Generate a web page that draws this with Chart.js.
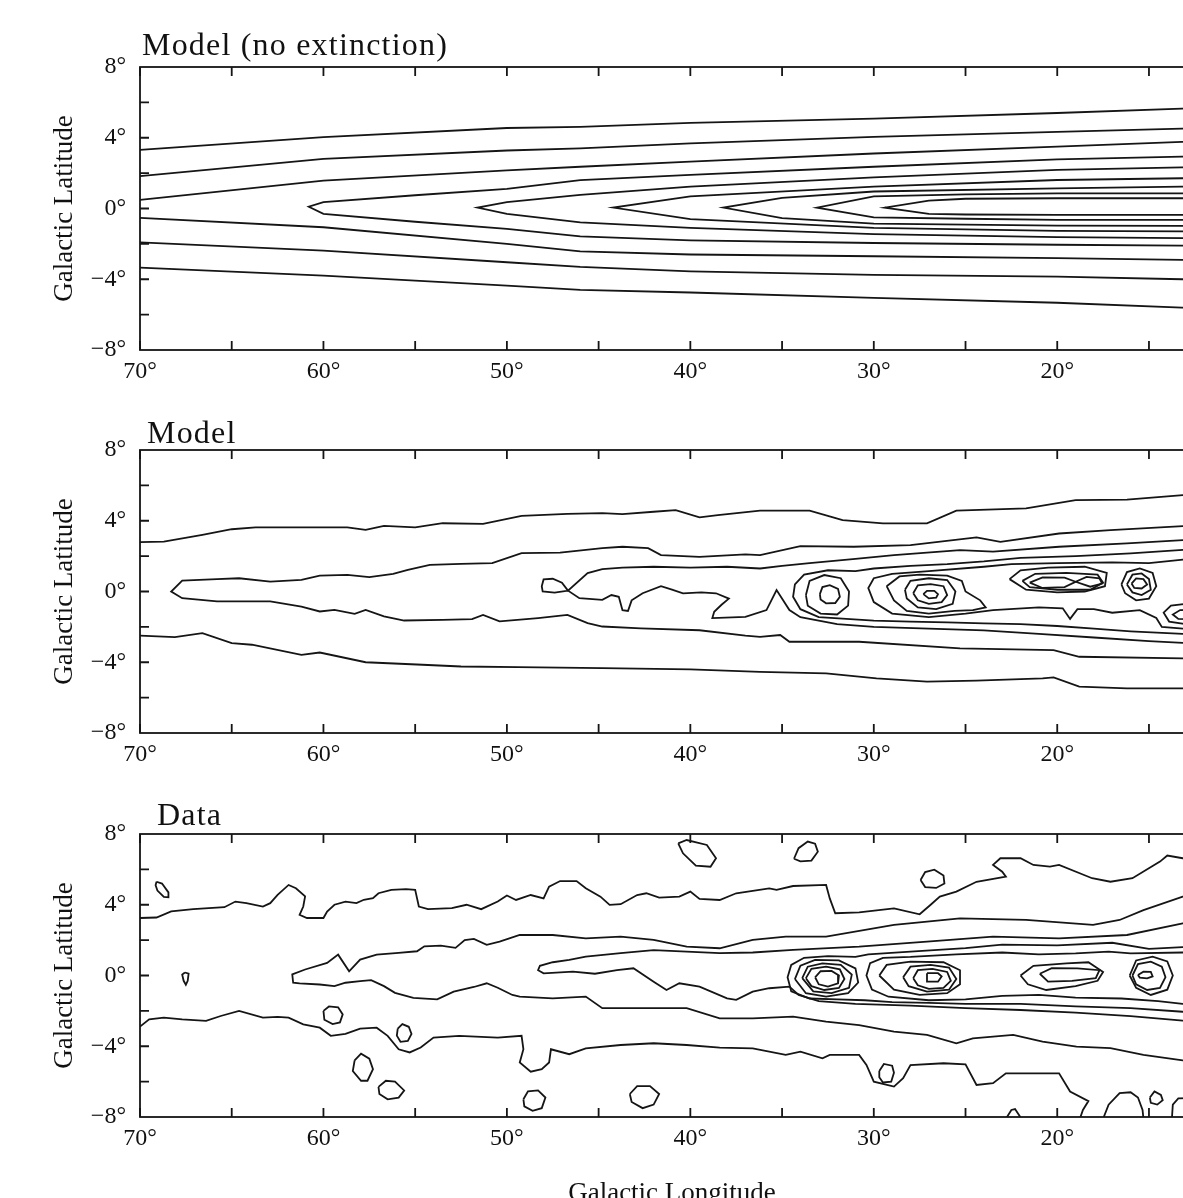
<!DOCTYPE html>
<html>
<head>
<meta charset="utf-8">
<script src="https://cdn.jsdelivr.net/npm/chart.js@4.4.1/dist/chart.umd.min.js"></script>
<style>
  html, body { margin: 0; padding: 0; background: #fff; overflow: hidden; width: 1183px; height: 1198px; }
  canvas { position: absolute; left: 0; }
</style>
</head>
<body>
<canvas id="panel1" width="1225" height="388" style="top:7px"></canvas>
<canvas id="panel2" width="1225" height="388" style="top:390px"></canvas>
<canvas id="panel3" width="1225" height="443" style="top:774px"></canvas>
<script>
// axis values
var lonTicks = [70, 60, 50, 40, 30, 20];
var latTicks = [-8, -4, 0, 4, 8];
var lonTickMarks = [70, 65, 60, 55, 50, 45, 40, 35, 30, 25, 20, 15];
var latTickMarks = [-6, -4, -2, 0, 2, 4, 6];
var panelTitles = ['Model (no extinction)', 'Model', 'Data'];

// ---- panel 1: model, no extinction  [longitude, latitude] ----
var m1c1Up = [[70,3.32],[60,4.04],[50,4.55],[46,4.62],[40,4.84],[30,5.08],[20,5.4],[13.2,5.65],[11,5.75]];
var m1c1Lo = [[70,-3.34],[60,-3.79],[50,-4.36],[46,-4.6],[40,-4.75],[30,-5.05],[20,-5.33],[13.2,-5.6],[11,-5.7]];
var m1c2Up = [[70,1.83],[60,2.81],[50,3.28],[46,3.4],[40,3.68],[30,4.05],[20,4.33],[13.2,4.52],[11,4.6]];
var m1c2Lo = [[70,-1.91],[60,-2.38],[50,-3.04],[46,-3.3],[40,-3.55],[30,-3.75],[20,-3.85],[13.2,-4.0],[11,-4.05]];
var m1c3Up = [[70,0.49],[60,1.58],[50,2.15],[46,2.36],[40,2.65],[30,3.11],[20,3.5],[13.2,3.77],[11,3.85]];
var m1c3Lo = [[70,-0.53],[60,-1.06],[50,-2.0],[46,-2.42],[40,-2.6],[30,-2.7],[20,-2.8],[13.2,-2.9],[11,-2.95]];
var m1c4Up = [[60.8,0.1],[60,0.36],[55,0.75],[50,1.11],[46,1.61],[40,1.9],[30,2.36],[20,2.78],[13.2,2.93],[11,3.0]];
var m1c4Lo = [[60.8,0.1],[60,-0.3],[55,-0.75],[50,-1.15],[46,-1.58],[40,-1.8],[30,-1.95],[20,-2.05],[13.2,-2.1],[11,-2.12]];
var m1c5Up = [[51.6,0.05],[50,0.36],[46,0.77],[40,1.24],[30,1.76],[20,2.18],[13.2,2.33],[11,2.38]];
var m1c5Lo = [[51.6,0.05],[50,-0.3],[46,-0.79],[40,-1.1],[30,-1.45],[20,-1.62],[13.2,-1.67],[11,-1.7]];
var m1c6Up = [[44.2,0.05],[40,0.68],[30,1.24],[20,1.61],[13.2,1.71],[11,1.74]];
var m1c6Lo = [[44.2,0.05],[40,-0.6],[30,-1.1],[20,-1.27],[13.2,-1.29],[11,-1.3]];
var m1c7Up = [[38.2,0.05],[35,0.6],[30,0.96],[20,1.14],[13.2,1.24],[11,1.26]];
var m1c7Lo = [[38.2,0.05],[35,-0.55],[30,-0.85],[20,-0.97],[13.2,-0.98],[11,-0.99]];
var m1c8Up = [[33.1,0.05],[30,0.68],[25,0.8],[20,0.86],[13.2,0.86],[11,0.86]];
var m1c8Lo = [[33.1,0.05],[30,-0.5],[25,-0.58],[20,-0.64],[13.2,-0.64],[11,-0.64]];
var m1c9Up = [[29.4,0.05],[27,0.45],[25,0.55],[20,0.58],[13.2,0.58],[11,0.58]];
var m1c9Lo = [[29.4,0.05],[27,-0.3],[25,-0.34],[20,-0.36],[13.2,-0.36],[11,-0.36]];

// ---- panel 2: model ----
var m2Top = [[70,2.79],[68.7,2.82],[66.6,3.2],[65,3.52],[63.7,3.63],[58.7,3.63],[57.7,3.48],[56.7,3.71],[55,3.63],[53.5,3.86],[51.3,3.82],[49.2,4.27],[46.7,4.39],[44.8,4.43],[43.7,4.38],[42,4.51],[40.8,4.6],[39.5,4.19],[38.5,4.32],[36.2,4.57],[33.5,4.57],[31.7,4.04],[29.5,3.85],[27.1,3.85],[25.5,4.57],[21.7,4.7],[19,5.17],[16.2,5.2],[13.15,5.45],[11,5.5]];
var m2Bottom = [[70,-2.5],[68.1,-2.58],[66.6,-2.35],[65,-2.92],[63.9,-3.01],[61.2,-3.58],[60.2,-3.45],[57.7,-4.0],[54.6,-4.14],[52.5,-4.24],[49.4,-4.27],[44.8,-4.33],[40,-4.4],[36.2,-4.54],[32.6,-4.63],[29.85,-4.91],[27.1,-5.1],[24.4,-5.04],[20.8,-4.91],[20.2,-4.86],[18.8,-5.38],[16.2,-5.48],[13.15,-5.48],[11,-5.5]];
var m2OuterUp = [[68.3,0.0],[67.7,0.62],[65.8,0.7],[64.6,0.75],[62.9,0.56],[61.2,0.66],[60.2,0.9],[58.7,0.94],[57.5,0.81],[56.2,1.0],[55.4,1.22],[54.2,1.5],[52.5,1.56],[50.8,1.6],[49.2,2.17],[47.1,2.2],[44.8,2.45],[43.7,2.53],[42.3,2.45],[41.6,2.06],[39.5,1.96],[37,2.1],[36.2,2.06],[34,2.57],[31.1,2.53],[28,2.62],[24.4,3.06],[23.1,2.81],[19.9,3.28],[17.1,3.47],[13.15,3.7],[11,3.75]];
var m2OuterLo = [[68.3,0.0],[67.7,-0.38],[65.8,-0.56],[62.9,-0.56],[61.2,-0.85],[60.2,-1.13],[59.4,-1.04],[58.3,-1.26],[57.7,-1.04],[56.7,-1.41],[55.6,-1.64],[53.5,-1.6],[51.9,-1.56],[51.3,-1.32],[50.4,-1.69],[48.3,-1.5],[46.7,-1.32],[45.6,-1.79],[44.8,-1.98],[42.7,-2.09],[39.5,-2.19],[37,-2.5],[36.2,-2.56],[35.1,-2.46],[34.6,-2.84],[30.8,-2.84],[25.3,-3.22],[20.2,-3.31],[18.8,-3.69],[13.15,-3.78],[11,-3.8]];
var m2Mid = [[11,2.95],[13.15,2.91],[16.2,2.72],[19.9,2.53],[23.5,2.25],[25.3,2.34],[28.9,2.06],[31,1.85],[33.5,1.6],[35,1.45],[36.2,1.3],[38,1.4],[40,1.35],[42,1.4],[43.7,1.35],[44.8,1.26],[45.6,1.04],[46.67,0.05],[47.0,0.5],[47.5,0.72],[48.0,0.68],[48.1,0.3],[48.05,0.0],[47.4,-0.06],[46.67,0.05],[46.05,-0.38],[44.8,-0.47],[44.3,-0.2],[43.9,-0.3],[43.7,-1.06],[43.4,-1.1],[43.2,-0.5],[42.6,-0.1],[41.6,0.3],[41.0,0.1],[40.4,-0.11],[39.4,-0.05],[38.6,-0.1],[37.9,-0.4],[38.3,-0.75],[38.7,-1.15],[38.8,-1.5],[37.0,-1.43],[35.85,-1.05],[35.3,0.08],[34.6,-1.05],[34.0,-1.45],[32,-1.85],[30,-2.0],[27,-2.1],[24,-2.2],[21,-2.4],[18,-2.6],[15,-2.8],[13.15,-2.9],[11,-2.95]];
var m2BandUp = [[34.4,-0.3],[34.3,0.4],[33.8,0.95],[32.5,1.2],[31,1.15],[30,1.3],[28,1.45],[26,1.55],[24,1.7],[22,1.9],[19,2.0],[16,2.15],[13.15,2.35],[11,2.4]];
var m2BandLo = [[34.4,-0.3],[34.0,-1.0],[33,-1.45],[31.5,-1.55],[30,-1.65],[28,-1.7],[26,-1.75],[24,-1.8],[22,-1.85],[20,-1.95],[18,-2.1],[16,-2.25],[13.15,-2.4],[11,-2.45]];
var m2InnerUp = [[30.3,0.2],[30.0,0.75],[29.0,1.0],[27,1.15],[24,1.4],[22.5,1.55],[20,1.6],[17,1.65],[15,1.6],[13.15,1.8],[11,1.85]];
var m2InnerLo = [[30.3,0.2],[30.0,-0.6],[29.0,-1.25],[27,-1.45],[25,-1.25],[23.5,-1.05],[21,-0.9],[19.7,-0.95],[19.3,-1.55],[18.9,-1.0],[18.0,-1.0],[17.0,-1.2],[15.5,-1.05],[14.6,-1.5],[14.3,-2.0],[13.15,-2.1],[11,-2.15]];
var m2Knot1a = [[33.7,-0.2],[33.5,0.6],[32.7,0.93],[31.8,0.75],[31.35,0.0],[31.4,-0.8],[32.0,-1.3],[32.9,-1.25],[33.6,-0.8],[33.7,-0.2]];
var m2Knot1b = [[32.94,-0.15],[32.8,0.25],[32.4,0.36],[31.95,0.15],[31.85,-0.3],[32.1,-0.65],[32.6,-0.67],[32.9,-0.45],[32.94,-0.15]];
var m2Knot2a = [[29.3,0.3],[28.6,0.85],[27.5,0.95],[26.0,0.9],[25.2,0.6],[25.0,0.0],[24.2,-0.5],[23.9,-0.9],[24.6,-1.05],[25.6,-1.1],[27.0,-1.25],[28.2,-1.1],[28.9,-0.5],[29.3,0.3]];
var m2Knot2b = [[28.3,0.1],[28.0,0.6],[27.0,0.75],[26.0,0.65],[25.55,0.0],[25.7,-0.7],[26.6,-1.0],[27.6,-0.9],[28.2,-0.4],[28.3,0.1]];
var m2Knot2c = [[27.85,-0.1],[27.6,0.35],[26.9,0.42],[26.2,0.3],[26.0,-0.2],[26.3,-0.6],[27.0,-0.7],[27.6,-0.5],[27.85,-0.1]];
var m2Knot2d = [[27.3,-0.15],[27.1,0.04],[26.7,0.04],[26.5,-0.15],[26.6,-0.35],[27.0,-0.39],[27.3,-0.15]];
var m2Knot3a = [[22.6,0.7],[22.0,1.2],[20.5,1.35],[18.5,1.4],[17.3,1.05],[17.4,0.3],[18.5,0.0],[20.0,-0.05],[21.7,0.1],[22.6,0.7]];
var m2Knot3b = [[21.9,0.6],[21.2,1.0],[19.5,1.05],[17.8,0.95],[17.5,0.5],[18.2,0.1],[20.0,0.1],[21.5,0.25],[21.9,0.6]];
var m2Knot3c = [[21.5,0.5],[20.8,0.8],[19.6,0.78],[19.0,0.55],[19.6,0.25],[20.8,0.2],[21.5,0.5]];
var m2Knot3d = [[19.0,0.55],[18.4,0.83],[17.7,0.75],[17.55,0.45],[18.2,0.27],[19.0,0.55]];
var m2Knot4a = [[16.5,0.4],[16.2,1.1],[15.5,1.3],[14.8,1.05],[14.6,0.3],[15.0,-0.4],[15.7,-0.5],[16.3,-0.1],[16.5,0.4]];
var m2Knot4b = [[16.2,0.4],[15.9,0.95],[15.4,1.02],[15.0,0.7],[14.9,0.1],[15.4,-0.2],[15.9,-0.05],[16.2,0.4]];
var m2Knot4c = [[15.95,0.45],[15.7,0.74],[15.3,0.7],[15.1,0.4],[15.4,0.17],[15.8,0.2],[15.95,0.45]];
var m2Knot5a = [[11,-0.6],[13.0,-0.7],[13.8,-0.8],[14.2,-1.2],[13.9,-1.7],[13.0,-1.85],[11,-1.9]];
var m2Knot5b = [[11,-1.0],[13.3,-1.05],[13.7,-1.3],[13.4,-1.55],[11,-1.6]];

// ---- panel 3: data ----
var d3Top = [[70,3.25],[69.1,3.28],[68.3,3.62],[67.1,3.75],[65.4,3.86],[64.8,4.18],[64.2,4.09],[63.3,3.9],[62.9,4.09],[62.5,4.56],[61.9,5.12],[61.5,4.93],[61.0,4.47],[61.1,3.9],[61.3,3.43],[60.9,3.25],[60.0,3.25],[59.8,3.62],[59.4,4.0],[58.8,4.18],[58.2,4.09],[57.8,4.28],[57.3,4.37],[57.0,4.65],[56.3,4.84],[55.5,4.88],[55.0,4.84],[54.8,3.9],[54.3,3.75],[53.0,3.81],[52.2,4.0],[51.4,3.75],[50.5,4.18],[50.0,4.52],[49.5,4.27],[48.7,4.55],[48.0,4.36],[47.7,5.02],[47.1,5.34],[46.2,5.34],[45.7,4.93],[44.9,4.46],[44.4,3.99],[43.8,4.03],[42.9,4.55],[42.4,4.65],[41.7,4.4],[40.6,4.46],[40.0,4.74],[39.5,4.33],[38.4,4.27],[37.5,4.65],[35.7,4.93],[35.3,4.84],[34.4,5.06],[32.6,5.12],[32.4,4.36],[32.1,3.52],[30.8,3.57],[28.9,3.8],[27.5,3.46],[26.9,4.0],[26.4,4.46],[25.5,4.74],[24.4,5.3],[22.8,5.59],[23.0,5.87],[23.5,6.25],[23.1,6.63],[22.0,6.63],[21.3,6.25],[20.4,6.16],[19.9,6.25],[18.1,5.5],[17.1,5.3],[15.9,5.5],[14.4,6.44],[14.0,6.78],[13.16,6.63],[11,6.7]];
var d3Bottom = [[70,-2.89],[69.5,-2.48],[68.7,-2.38],[67.7,-2.48],[66.4,-2.57],[65.6,-2.29],[64.6,-2.0],[63.3,-2.38],[62.5,-2.34],[61.9,-2.38],[61.1,-2.76],[60.2,-2.95],[59.6,-3.41],[58.8,-3.3],[58.0,-3.0],[57.1,-2.95],[56.5,-3.41],[55.9,-4.17],[55.3,-4.35],[54.7,-4.07],[54.0,-3.51],[52.6,-3.41],[50.5,-3.51],[49.2,-3.41],[49.1,-4.17],[49.3,-4.92],[48.7,-5.44],[48.1,-5.29],[47.7,-4.92],[47.6,-4.17],[46.6,-4.45],[45.7,-4.12],[43.8,-3.93],[42.0,-3.83],[40.2,-3.93],[38.4,-4.08],[36.6,-4.12],[34.8,-4.49],[34.0,-4.3],[32.8,-4.68],[32.4,-4.49],[30.8,-4.49],[30.4,-5.06],[30.0,-6.0],[28.9,-6.28],[28.4,-5.81],[28.0,-5.06],[26.2,-4.96],[25.0,-5.02],[24.4,-6.19],[23.5,-6.09],[22.8,-5.53],[19.9,-5.53],[19.3,-6.56],[18.3,-7.1],[18.6,-7.6],[18.8,-8.2]];
var d3OuterUp = [[61.7,0.06],[61.0,0.34],[59.8,0.71],[59.2,1.18],[58.6,0.24],[58.0,0.9],[57.1,1.18],[55.9,1.28],[54.9,1.37],[54.5,1.65],[53.6,1.69],[52.8,1.56],[52.3,2.0],[51.8,2.07],[51.1,1.73],[50.4,1.92],[49.3,2.29],[47.5,2.29],[45.7,2.1],[43.8,2.2],[42.0,2.01],[40.2,1.63],[38.4,1.54],[36.6,2.01],[34.8,2.2],[32.6,2.2],[28.9,2.86],[25.3,3.23],[21.7,3.14],[18.05,2.86],[16.6,3.14],[15.3,3.7],[13.16,4.46],[11,4.7]];
var d3OuterLo = [[61.7,0.06],[61.65,-0.41],[61.3,-0.45],[60.2,-0.51],[59.4,-0.6],[58.8,-0.41],[58.0,-0.32],[57.4,-0.26],[56.7,-0.6],[56.1,-0.98],[55.1,-1.26],[53.8,-1.35],[52.9,-0.91],[51.8,-0.65],[51.1,-0.44],[50.5,-0.69],[49.7,-1.1],[49.3,-1.19],[47.5,-1.29],[45.7,-1.19],[44.8,-1.85],[42.9,-1.85],[40.2,-1.85],[38.4,-2.42],[36.6,-2.42],[34.4,-2.32],[32.6,-2.61],[30.8,-2.8],[28.9,-3.17],[27.1,-3.36],[25.5,-3.83],[24.6,-3.55],[22.4,-3.36],[20.8,-3.74],[18.95,-4.02],[17.1,-4.11],[15.3,-4.49],[13.16,-4.8],[11,-4.9]];
var d3MidUp = [[48.3,0.3],[48.2,0.55],[47.5,0.75],[46.6,0.88],[45.7,1.07],[43.8,1.26],[42.0,1.44],[40.2,1.35],[38.4,1.26],[36.6,1.3],[34.4,1.45],[30.8,1.63],[27.1,1.92],[23.5,2.2],[19.9,2.1],[16.2,2.29],[13.16,2.95],[11,3.1]];
var d3MidLo = [[48.3,0.3],[48.0,0.12],[46.4,0.22],[45.2,0.1],[44.0,0.3],[43.1,0.41],[42.0,-0.35],[41.3,-0.82],[40.6,-0.44],[39.5,-0.63],[38.0,-1.29],[37.5,-1.38],[36.6,-0.91],[35.7,-0.72],[34.6,-0.63],[34.1,-1.1],[33,-1.45],[31,-1.6],[28,-1.7],[25,-1.85],[22,-1.95],[19,-2.1],[16,-2.3],[13.16,-2.55],[11,-2.65]];
var d3BandUp = [[34.7,-0.1],[34.5,0.6],[33.8,1.0],[32.5,1.1],[31,1.05],[30.3,1.2],[28,1.35],[25,1.55],[23,1.75],[20,1.7],[17,1.85],[15,1.5],[13.16,1.6],[11,1.65]];
var d3BandLo = [[34.7,-0.1],[34.5,-0.9],[33.5,-1.3],[32,-1.35],[30.5,-1.4],[29,-1.5],[27,-1.55],[25,-1.6],[22,-1.6],[19,-1.75],[16,-1.85],[13.16,-2.05],[11,-2.1]];
var d3InnerUp = [[30.4,0.0],[30.2,0.7],[29.5,1.0],[28,1.05],[25.5,1.2],[23,1.3],[21,1.2],[19,1.25],[17.2,1.35],[16,1.25],[13.16,1.3],[11,1.3]];
var d3InnerLo = [[30.4,0.0],[30.1,-0.8],[29.2,-1.2],[27,-1.4],[25,-1.35],[23,-1.15],[21,-1.1],[19,-1.25],[16.5,-1.3],[14.5,-1.45],[13.16,-1.6],[11,-1.65]];
var d3Knot1a = [[34.3,-0.2],[34.0,0.55],[33.2,0.88],[31.9,0.85],[31.0,0.4],[30.85,-0.4],[31.4,-1.0],[32.6,-1.19],[33.7,-1.0],[34.3,-0.2]];
var d3Knot1b = [[33.9,-0.15],[33.6,0.5],[32.8,0.69],[31.8,0.6],[31.2,0.05],[31.35,-0.7],[32.3,-1.0],[33.3,-0.9],[33.9,-0.15]];
var d3Knot1c = [[33.7,-0.15],[33.4,0.38],[32.6,0.5],[31.85,0.35],[31.6,-0.2],[31.9,-0.7],[32.7,-0.82],[33.4,-0.6],[33.7,-0.15]];
var d3Knot1d = [[33.2,-0.1],[32.9,0.24],[32.3,0.26],[31.9,0.0],[31.95,-0.45],[32.5,-0.63],[33.0,-0.5],[33.2,-0.1]];
var d3Knot2a = [[29.7,0.0],[29.3,0.6],[28.0,0.78],[26.2,0.75],[25.3,0.3],[25.3,-0.5],[26.0,-1.0],[27.5,-1.1],[28.9,-0.8],[29.7,0.0]];
var d3Knot2b = [[28.4,-0.1],[28.0,0.5],[26.9,0.6],[25.9,0.45],[25.5,-0.2],[25.9,-0.8],[27.1,-0.91],[28.1,-0.6],[28.4,-0.1]];
var d3Knot2c = [[27.85,-0.15],[27.6,0.3],[26.8,0.37],[26.0,0.2],[25.8,-0.3],[26.2,-0.7],[27.0,-0.76],[27.6,-0.55],[27.85,-0.15]];
var d3Knot2d = [[27.1,0.13],[26.5,0.13],[26.3,-0.05],[26.5,-0.35],[27.1,-0.35],[27.1,0.13]];
var d3Knot3a = [[22.0,0.0],[21.3,0.55],[19.5,0.69],[18.3,0.75],[17.5,0.2],[17.8,-0.3],[19.0,-0.6],[20.6,-0.82],[21.6,-0.5],[22.0,0.0]];
var d3Knot3b = [[20.95,0.1],[20.3,0.41],[18.9,0.4],[17.7,0.3],[17.9,-0.15],[19.2,-0.3],[20.5,-0.35],[20.95,0.1]];
var d3Knot4a = [[16.05,0.0],[15.7,0.85],[14.8,1.07],[14.0,0.8],[13.7,0.0],[14.0,-0.8],[14.9,-1.1],[15.7,-0.7],[16.05,0.0]];
var d3Knot4b = [[15.9,0.0],[15.6,0.65],[14.9,0.78],[14.3,0.5],[14.1,-0.1],[14.4,-0.7],[15.1,-0.82],[15.7,-0.5],[15.9,0.0]];
var d3Knot4c = [[15.6,0.03],[15.3,0.22],[14.9,0.2],[14.8,-0.05],[15.1,-0.16],[15.5,-0.12],[15.6,0.03]];
var d3Isles = [
  [[69.1,5.3],[68.8,5.2],[68.45,4.7],[68.45,4.42],[68.7,4.45],[69.05,4.8],[69.15,5.1],[69.1,5.3]],
  [[67.55,0.17],[67.35,0.1],[67.4,-0.3],[67.5,-0.52],[67.62,-0.3],[67.7,0.05],[67.55,0.17]],
  [[60.0,-2.0],[59.7,-1.75],[59.2,-1.8],[58.95,-2.2],[59.1,-2.65],[59.5,-2.75],[59.95,-2.5],[60.0,-2.0]],
  [[55.95,-3.0],[55.7,-2.75],[55.35,-2.9],[55.2,-3.3],[55.4,-3.7],[55.8,-3.75],[56.0,-3.4],[55.95,-3.0]],
  [[58.3,-4.8],[57.95,-4.42],[57.5,-4.7],[57.3,-5.3],[57.6,-5.95],[57.95,-5.95],[58.4,-5.4],[58.3,-4.8]],
  [[57.0,-6.3],[56.6,-5.95],[56.1,-6.0],[55.6,-6.5],[55.9,-6.9],[56.5,-7.0],[56.95,-6.7],[57.0,-6.3]],
  [[49.1,-7.0],[48.85,-6.55],[48.3,-6.5],[47.9,-6.9],[48.1,-7.5],[48.6,-7.65],[49.05,-7.4],[49.1,-7.0]],
  [[43.3,-6.7],[42.9,-6.25],[42.2,-6.25],[41.7,-6.7],[42.0,-7.3],[42.6,-7.5],[43.2,-7.15],[43.3,-6.7]],
  [[40.66,7.47],[40.2,7.66],[39.1,7.38],[38.6,6.63],[38.9,6.15],[39.7,6.21],[40.4,6.91],[40.66,7.47]],
  [[34.35,6.6],[34.1,7.2],[33.6,7.57],[33.2,7.45],[33.05,7.0],[33.4,6.5],[34.0,6.45],[34.35,6.6]],
  [[27.45,5.4],[27.2,5.85],[26.7,5.98],[26.2,5.65],[26.15,5.2],[26.6,4.95],[27.2,5.0],[27.45,5.4]],
  [[29.7,-5.4],[29.45,-5.0],[29.0,-5.1],[28.9,-5.5],[29.05,-6.0],[29.5,-6.05],[29.7,-5.75],[29.7,-5.4]],
  [[14.95,-6.9],[14.7,-6.55],[14.35,-6.75],[14.25,-7.05],[14.55,-7.3],[14.9,-7.2],[14.95,-6.9]],
  [[22.8,-8.1],[22.5,-7.6],[22.3,-7.55],[21.95,-8.1]],
  [[17.5,-8.1],[17.2,-7.3],[16.6,-6.65],[16.0,-6.6],[15.6,-6.9],[15.35,-7.6],[15.3,-8.1]],
  [[13.75,-8.1],[13.7,-7.3],[13.4,-6.95],[11,-6.9]]
];

function tipLoop(up, lo) { return up.slice().reverse().concat(lo.slice(1)); }

var panel1Lines = [m1c1Up, m1c1Lo, m1c2Up, m1c2Lo, m1c3Up, m1c3Lo,
  tipLoop(m1c4Up, m1c4Lo), tipLoop(m1c5Up, m1c5Lo), tipLoop(m1c6Up, m1c6Lo),
  tipLoop(m1c7Up, m1c7Lo), tipLoop(m1c8Up, m1c8Lo), tipLoop(m1c9Up, m1c9Lo)];
var panel2Lines = [m2Top, m2Bottom, tipLoop(m2OuterUp, m2OuterLo), m2Mid,
  tipLoop(m2BandUp, m2BandLo), tipLoop(m2InnerUp, m2InnerLo),
  m2Knot1a, m2Knot1b, m2Knot2a, m2Knot2b, m2Knot2c, m2Knot2d,
  m2Knot3a, m2Knot3b, m2Knot3c, m2Knot3d, m2Knot4a, m2Knot4b, m2Knot4c, m2Knot5a, m2Knot5b];
var panel3Lines = [d3Top, d3Bottom, tipLoop(d3OuterUp, d3OuterLo), tipLoop(d3MidUp, d3MidLo),
  tipLoop(d3BandUp, d3BandLo), tipLoop(d3InnerUp, d3InnerLo),
  d3Knot1a, d3Knot1b, d3Knot1c, d3Knot1d, d3Knot2a, d3Knot2b, d3Knot2c, d3Knot2d,
  d3Knot3a, d3Knot3b, d3Knot4a, d3Knot4b, d3Knot4c].concat(d3Isles);

var serif = '"Liberation Serif", "Times New Roman", serif';
var ink = '#151515';

// frame, inward ticks and panel title
var framePlugin = {
  id: 'frame',
  afterDatasetsDraw: function(chart, args, opts) {
    var ctx = chart.ctx, a = chart.chartArea;
    var x = chart.scales.x, y = chart.scales.y;
    ctx.save();
    ctx.strokeStyle = ink;
    ctx.lineWidth = 1.8;
    ctx.strokeRect(a.left, a.top, a.right - a.left, a.bottom - a.top);
    ctx.beginPath();
    lonTickMarks.forEach(function(v) {
      var px = x.getPixelForValue(v);
      ctx.moveTo(px, a.top); ctx.lineTo(px, a.top + 9);
      ctx.moveTo(px, a.bottom); ctx.lineTo(px, a.bottom - 9);
    });
    latTickMarks.forEach(function(v) {
      var py = y.getPixelForValue(v);
      ctx.moveTo(a.left, py); ctx.lineTo(a.left + 9, py);
    });
    ctx.stroke();
    ctx.fillStyle = '#111';
    ctx.font = '32px ' + serif;
    ctx.letterSpacing = '1.2px';
    ctx.textBaseline = 'alphabetic';
    ctx.textAlign = 'left';
    ctx.fillText(opts.title, a.left + opts.dx, a.top - opts.dy);
    ctx.restore();
  }
};

function degLabel(v) { return (v < 0 ? '\u2212' + (-v) : v) + '\u00b0'; }

function makePanel(id, lines, title, dx, dy, xTitle) {
  var ctx = document.getElementById(id).getContext('2d');
  return new Chart(ctx, {
    type: 'scatter',
    data: {
      datasets: lines.map(function(arr) {
        return {
          data: arr.map(function(p) { return {x: p[0], y: p[1]}; }),
          showLine: true,
          borderColor: ink,
          borderWidth: 1.8,
          pointRadius: 0,
          tension: 0,
          fill: false
        };
      })
    },
    options: {
      responsive: false,
      animation: false,
      layout: { padding: { top: 60, right: 21, left: 0, bottom: 0 } },
      plugins: {
        legend: { display: false },
        tooltip: { enabled: false },
        frame: { title: title, dx: dx, dy: dy }
      },
      scales: {
        x: {
          type: 'linear', min: 12, max: 70, reverse: true,
          afterBuildTicks: function(s) { s.ticks = lonTicks.map(function(v) { return {value: v}; }); },
          afterFit: function(s) { s.height = xTitle ? 100 : 45; },
          grid: { display: false, drawTicks: false },
          border: { display: false },
          ticks: { callback: degLabel, color: '#111', padding: 7, maxRotation: 0, autoSkip: false, font: { family: serif, size: 24 } },
          title: { display: !!xTitle, text: xTitle || '', color: '#111', font: { family: serif, size: 27 }, padding: { top: 0, bottom: 7 } }
        },
        y: {
          type: 'linear', min: -8, max: 8,
          afterBuildTicks: function(s) { s.ticks = latTicks.map(function(v) { return {value: v}; }); },
          afterFit: function(s) { s.width = 140; },
          grid: { display: false, drawTicks: false },
          border: { display: false },
          ticks: { callback: degLabel, color: '#111', padding: 14, font: { family: serif, size: 24 } },
          title: { display: true, text: 'Galactic Latitude', color: '#111', font: { family: serif, size: 27 }, padding: { top: 49, bottom: 0 } }
        }
      }
    },
    plugins: [framePlugin]
  });
}

makePanel('panel1', panel1Lines, panelTitles[0], 2, 12, null);
makePanel('panel2', panel2Lines, panelTitles[1], 7, 7, null);
makePanel('panel3', panel3Lines, panelTitles[2], 17, 9, 'Galactic Longitude');
</script>
</body>
</html>
